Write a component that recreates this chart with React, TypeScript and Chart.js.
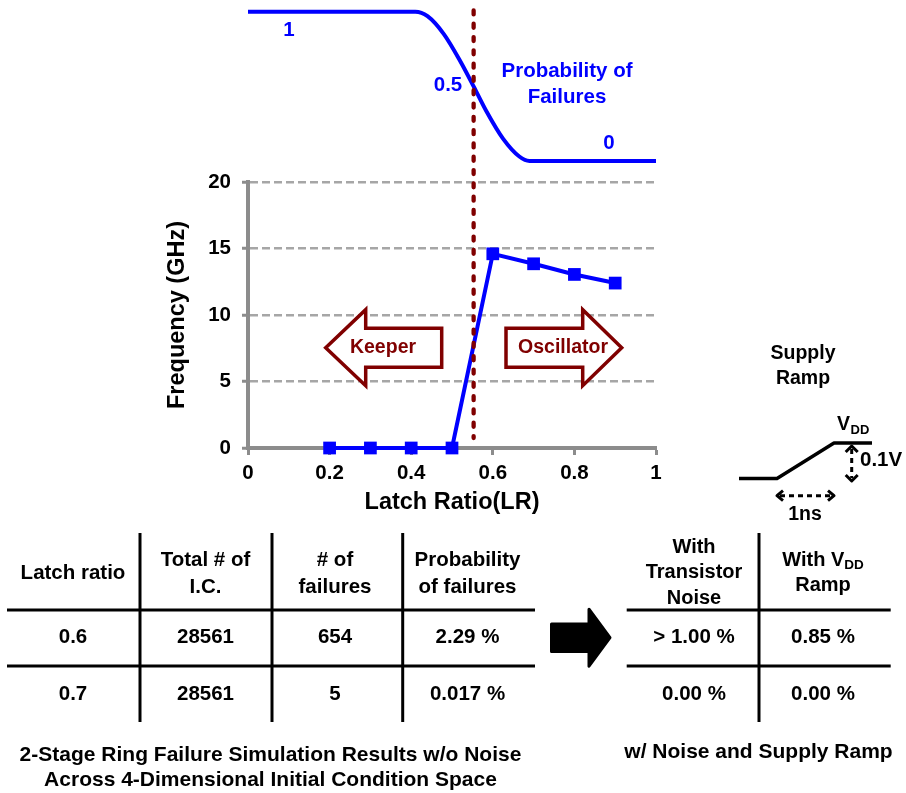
import React, { useEffect, useRef } from 'react';
import { Chart, registerables } from 'chart.js';

Chart.register(...registerables);

const FONT = '"Liberation Sans", Arial, Helvetica, sans-serif';
const BLUE = '#0000ff';
const MAROON = '#800000';
const GRID = '#a6a6a6';
const AXIS = '#8c8c8c';

// Ring oscillation frequency against latch ratio
const latchRatio = [0.2, 0.3, 0.4, 0.5, 0.6, 0.7, 0.8, 0.9];
const frequencyGHz = [0, 0, 0, 0, 14.6, 13.85, 13.05, 12.4];

// Probability of failures across the keeper / oscillator boundary
const failureLR = [0, 0.41, 0.44, 0.48, 0.52, 0.553, 0.585, 0.625, 0.665, 0.69, 1];
const failureProb = [1, 1, 0.97, 0.85, 0.67, 0.5, 0.33, 0.15, 0.03, 0, 0];

// Keeper / oscillator boundary marker
const boundaryLR = 0.553;
const boundarySpanGHz = [32.9, 0.75];

const xTickValues = [0, 0.2, 0.4, 0.6, 0.8, 1];
const yTickValues = [0, 5, 10, 15, 20];

// Simulation result tables
const simHeader = [['Latch ratio'], ['Total # of', 'I.C.'], ['# of', 'failures'], ['Probability', 'of failures']];
const simRows = [
  ['0.6', '28561', '654', '2.29 %'],
  ['0.7', '28561', '5', '0.017 %'],
];
const noiseRows = [
  ['> 1.00 %', '0.85 %'],
  ['0.00 %', '0.00 %'],
];

type Ctx = CanvasRenderingContext2D;

function label(ctx: Ctx, str: string, x: number, y: number, size: number, color = '#000', align: CanvasTextAlign = 'center') {
  ctx.font = `bold ${size}px ${FONT}`;
  ctx.fillStyle = color;
  ctx.textAlign = align;
  ctx.textBaseline = 'middle';
  ctx.fillText(str, x, y);
}

function line(ctx: Ctx, x1: number, y1: number, x2: number, y2: number) {
  ctx.beginPath();
  ctx.moveTo(x1, y1);
  ctx.lineTo(x2, y2);
  ctx.stroke();
}

function blockArrow(ctx: Ctx, tail: number, headBase: number, tip: number, cy: number, shaftHalf: number, headHalf: number) {
  ctx.beginPath();
  ctx.moveTo(tail, cy - shaftHalf);
  ctx.lineTo(headBase, cy - shaftHalf);
  ctx.lineTo(headBase, cy - headHalf);
  ctx.lineTo(tip, cy);
  ctx.lineTo(headBase, cy + headHalf);
  ctx.lineTo(headBase, cy + shaftHalf);
  ctx.lineTo(tail, cy + shaftHalf);
  ctx.closePath();
}

function chevron(ctx: Ctx, x: number, y: number, dx: number, dy: number) {
  // open arrow head pointing along (dx, dy)
  ctx.beginPath();
  if (dx !== 0) {
    ctx.moveTo(x - dx * 6, y - 5);
    ctx.lineTo(x, y);
    ctx.lineTo(x - dx * 6, y + 5);
  } else {
    ctx.moveTo(x - 6, y - dy * 6);
    ctx.lineTo(x, y);
    ctx.lineTo(x + 6, y - dy * 6);
  }
  ctx.stroke();
}

function subscriptLabel(ctx: Ctx, main: string, sub: string, cx: number, y: number, size: number, subSize: number) {
  ctx.font = `bold ${size}px ${FONT}`;
  const w1 = ctx.measureText(main).width;
  ctx.font = `bold ${subSize}px ${FONT}`;
  const w2 = ctx.measureText(sub).width;
  const x0 = cx - (w1 + w2) / 2;
  label(ctx, main, x0, y, size, '#000', 'left');
  label(ctx, sub, x0 + w1, y + size * 0.22, subSize, '#000', 'left');
}

const figureAnnotations = {
  id: 'figureAnnotations',
  afterDraw(chart: Chart) {
    const ctx = chart.ctx;
    ctx.save();

    // labels on the failure-probability curve
    label(ctx, '1', 289, 30, 20.5, BLUE);
    label(ctx, '0.5', 448, 85.5, 20.5, BLUE);
    label(ctx, 'Probability of', 567, 71, 20.5, BLUE);
    label(ctx, 'Failures', 567, 97, 20.5, BLUE);
    label(ctx, '0', 609, 143, 20.5, BLUE);

    // keeper / oscillator region arrows
    ctx.lineWidth = 3.5;
    ctx.lineJoin = 'miter';
    ctx.strokeStyle = MAROON;
    ctx.fillStyle = '#fff';
    blockArrow(ctx, 441.7, 365.7, 325.7, 347.7, 19.5, 38);
    ctx.fill();
    ctx.stroke();
    blockArrow(ctx, 506, 582.7, 621.7, 347.7, 19.5, 38);
    ctx.fill();
    ctx.stroke();
    label(ctx, 'Keeper', 383, 348, 19.5, MAROON);
    label(ctx, 'Oscillator', 563, 348, 19.5, MAROON);

    // supply ramp sketch
    label(ctx, 'Supply', 803, 354, 19.5);
    label(ctx, 'Ramp', 803, 379, 19.5);
    ctx.strokeStyle = '#000';
    ctx.lineWidth = 3.5;
    ctx.lineJoin = 'round';
    ctx.beginPath();
    ctx.moveTo(739, 478.5);
    ctx.lineTo(777, 478.5);
    ctx.lineTo(834, 443);
    ctx.lineTo(872, 443);
    ctx.stroke();
    label(ctx, 'V', 850, 425, 19.5, '#000', 'right');
    label(ctx, 'DD', 850.5, 430, 13, '#000', 'left');
    ctx.lineWidth = 3;
    ctx.lineCap = 'butt';
    ctx.setLineDash([5, 4]);
    line(ctx, 851.7, 449, 851.7, 478);
    line(ctx, 780, 495.7, 831, 495.7);
    ctx.setLineDash([]);
    chevron(ctx, 851.7, 446, 0, -1);
    chevron(ctx, 851.7, 481, 0, 1);
    chevron(ctx, 777, 495.7, -1, 0);
    chevron(ctx, 834, 495.7, 1, 0);
    label(ctx, '0.1V', 860, 460, 20.5, '#000', 'left');
    label(ctx, '1ns', 805, 515, 19.5);

    // simulation results table
    ctx.strokeStyle = '#000';
    ctx.lineWidth = 3;
    line(ctx, 7, 610, 535, 610);
    line(ctx, 7, 666, 535, 666);
    [140, 272, 402.7].forEach((x) => line(ctx, x, 533, x, 722));
    const simCols = [73, 205.5, 335, 467.5];
    const rowY = [637.5, 694.5];
    simHeader.forEach((lines, c) => {
      if (lines.length === 1) label(ctx, lines[0], simCols[c], 573.5, 20.5);
      else lines.forEach((t, i) => label(ctx, t, simCols[c], 560.5 + i * 26.5, 20.5));
    });
    simRows.forEach((row, r) => row.forEach((t, c) => label(ctx, t, simCols[c], rowY[r], 20.5)));

    // arrow to the noise table
    ctx.fillStyle = '#000';
    ctx.strokeStyle = '#000';
    ctx.lineWidth = 3;
    ctx.lineJoin = 'round';
    blockArrow(ctx, 551.5, 589, 610, 637.7, 13.8, 28.5);
    ctx.fill();
    ctx.stroke();

    // results with noise and supply ramp
    line(ctx, 626.7, 610, 890.7, 610);
    line(ctx, 626.7, 666, 890.7, 666);
    line(ctx, 759, 533, 759, 722);
    const noiseCols = [694, 823];
    label(ctx, 'With', noiseCols[0], 547, 20);
    label(ctx, 'Transistor', noiseCols[0], 572.5, 20);
    label(ctx, 'Noise', noiseCols[0], 598, 20);
    subscriptLabel(ctx, 'With V', 'DD', noiseCols[1], 560.5, 20, 13.5);
    label(ctx, 'Ramp', noiseCols[1], 585.5, 20);
    noiseRows.forEach((row, r) => row.forEach((t, c) => label(ctx, t, noiseCols[c], rowY[r], 20.5)));

    // captions
    label(ctx, '2-Stage Ring Failure Simulation Results w/o Noise', 270.5, 755, 21);
    label(ctx, 'Across 4-Dimensional Initial Condition Space', 270.5, 780, 21);
    label(ctx, 'w/ Noise and Supply Ramp', 758.5, 752.5, 21);

    ctx.restore();
  },
};

function buildConfig(): any {
  const tickFont = { family: FONT, size: 20.5, weight: 'bold' as const };
  const titleFont = { family: FONT, size: 23.5, weight: 'bold' as const };
  return {
    type: 'line',
    data: {
      datasets: [
        {
          label: 'Boundary',
          data: boundarySpanGHz.map((y) => ({ x: boundaryLR, y })),
          xAxisID: 'x',
          yAxisID: 'y',
          borderColor: MAROON,
          borderWidth: 4.3,
          borderDash: [4, 9.3],
          borderCapStyle: 'round',
          pointRadius: 0,
          clip: false,
        },
        {
          label: 'Frequency',
          data: latchRatio.map((x, i) => ({ x, y: frequencyGHz[i] })),
          xAxisID: 'x',
          yAxisID: 'y',
          borderColor: BLUE,
          backgroundColor: BLUE,
          borderWidth: 4,
          pointStyle: 'rect',
          pointRadius: 9,
          pointHoverRadius: 9,
          pointBorderWidth: 0,
          pointBackgroundColor: BLUE,
          clip: false,
        },
        {
          label: 'Probability of Failures',
          data: failureLR.map((x, i) => ({ x, y: failureProb[i] })),
          xAxisID: 'x',
          yAxisID: 'yProb',
          borderColor: BLUE,
          borderWidth: 4,
          cubicInterpolationMode: 'monotone',
          pointRadius: 0,
          clip: false,
        },
      ],
    },
    options: {
      responsive: false,
      animation: false,
      events: [],
      layout: { padding: { left: 163, right: 250, top: 182, bottom: 276 } },
      plugins: { legend: { display: false }, tooltip: { enabled: false } },
      scales: {
        x: {
          type: 'linear',
          min: 0,
          max: 1,
          afterBuildTicks: (s: any) => {
            s.ticks = xTickValues.map((value) => ({ value }));
          },
          afterFit: (s: any) => {
            s.height = 69;
          },
          ticks: {
            color: '#000',
            font: tickFont,
            padding: 6,
            maxRotation: 0,
            autoSkip: false,
            callback: (v: number) => String(v),
          },
          grid: { drawOnChartArea: false, drawTicks: true, tickLength: 7, tickColor: AXIS, tickWidth: 3 },
          border: { display: true, color: AXIS, width: 4 },
          title: {
            display: true,
            text: 'Latch Ratio(LR)',
            color: '#000',
            font: titleFont,
            padding: { top: 0, bottom: 0 },
          },
        },
        y: {
          type: 'linear',
          min: 0,
          max: 20,
          afterBuildTicks: (s: any) => {
            s.ticks = yTickValues.map((value) => ({ value }));
          },
          afterFit: (s: any) => {
            s.width = 85;
          },
          ticks: {
            color: '#000',
            font: tickFont,
            padding: 11,
            callback: (v: number) => String(v),
          },
          grid: { color: GRID, lineWidth: 2.5, tickLength: 6, tickColor: AXIS, tickWidth: 3 },
          border: { display: true, color: AXIS, width: 4, dash: [8, 4] },
          title: {
            display: true,
            text: 'Frequency (GHz)',
            color: '#000',
            font: titleFont,
            padding: { top: 0, bottom: 0 },
          },
        },
        yProb: {
          type: 'linear',
          display: false,
          min: -1.9222,
          max: -0.1406,
        },
      },
    },
    plugins: [figureAnnotations],
  };
}

export default function App() {
  const canvasRef = useRef<HTMLCanvasElement>(null);

  useEffect(() => {
    if (!canvasRef.current) return;
    const chart = new Chart(canvasRef.current, buildConfig());
    return () => chart.destroy();
  }, []);

  return (
    <div style={{ position: 'absolute', left: 0, top: 0, width: 906, height: 793, background: '#fff' }}>
      <canvas ref={canvasRef} width={906} height={793} style={{ display: 'block', width: 906, height: 793 }} />
    </div>
  );
}
